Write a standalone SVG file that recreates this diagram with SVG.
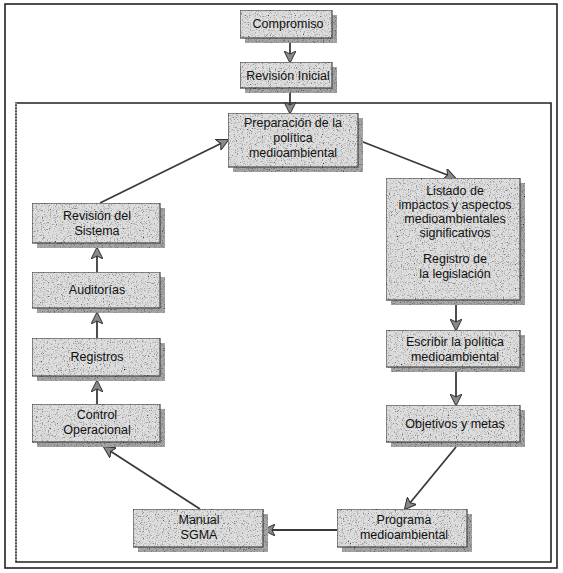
<svg xmlns="http://www.w3.org/2000/svg" width="563" height="573" viewBox="0 0 563 573">
  <defs>
    <style>
      .frame { fill: none; stroke: #222; stroke-width: 1.6; }
      .box { fill: #dedede; stroke: #4a4a4a; stroke-width: 1.2; }
      .shadow { fill: #a6a6a6; }
      .label { font-family: "Liberation Sans", Arial, sans-serif; font-size: 12.5px; fill: #111; text-anchor: middle; }
      .link { stroke: #3a3a3a; stroke-width: 1.8; fill: none; marker-end: url(#head); }
    </style>
    <!-- speckled grey finish for the boxes -->
    <filter id="grain" x="0" y="0" width="1" height="1">
      <feTurbulence type="fractalNoise" baseFrequency="0.85" numOctaves="2" seed="4" result="noise"/>
      <feColorMatrix in="noise" type="matrix" values="0 0 0 0 0  0 0 0 0 0  0 0 0 0 0  -2.6 0 0 0 1.25" result="dots"/>
      <feComposite in="dots" in2="SourceGraphic" operator="in" result="speck"/>
      <feMerge><feMergeNode in="SourceGraphic"/><feMergeNode in="speck"/></feMerge>
    </filter>
    <marker id="head" viewBox="0 0 12 12" refX="11" refY="6" markerWidth="12" markerHeight="12" markerUnits="userSpaceOnUse" orient="auto">
      <path d="M0,0 L12,6 L0,12 L3,6 Z" fill="#8a8a8a" stroke="#333" stroke-width="1"/>
    </marker>
  </defs>

  <!-- outer frame and inner management-cycle frame -->
  <rect class="frame" x="5" y="4" width="552" height="564"/>
  <path d="M16,562 V103 H551 V562 Z" fill="none" stroke="#222" stroke-width="1.6"/>
  <path d="M16,103 V562" stroke="#fff" stroke-width="1" stroke-dasharray="1.5 1.5"/>

  <g id="connectors">
    <line class="link" x1="290" y1="38" x2="290" y2="62"/>
    <line class="link" x1="290" y1="88" x2="290" y2="113"/>
    <line class="link" x1="358" y1="140" x2="455" y2="178"/>
    <line class="link" x1="456" y1="305" x2="456" y2="330"/>
    <line class="link" x1="456" y1="372" x2="456" y2="405"/>
    <line class="link" x1="456" y1="447" x2="405" y2="509"/>
    <line class="link" x1="337" y1="530" x2="264" y2="530"/>
    <line class="link" x1="200" y1="509" x2="104" y2="447"/>
    <line class="link" x1="97" y1="404" x2="97" y2="381"/>
    <line class="link" x1="97" y1="338" x2="97" y2="313"/>
    <line class="link" x1="97" y1="272" x2="97" y2="248"/>
    <line class="link" x1="100" y1="203" x2="228" y2="140"/>
  </g>

  <g id="compromiso">
    <g filter="url(#grain)"><rect class="shadow" x="245" y="15" width="92" height="28"/><rect class="box" x="240" y="10" width="92" height="28"/></g>
    <text class="label" x="288" y="28">Compromiso</text>
  </g>

  <g id="revision-inicial">
    <g filter="url(#grain)"><rect class="shadow" x="245" y="67" width="92" height="26"/><rect class="box" x="240" y="62" width="92" height="26"/></g>
    <text class="label" x="288" y="80">Revisión Inicial</text>
  </g>

  <g id="preparacion">
    <g filter="url(#grain)"><rect class="shadow" x="233" y="118" width="130" height="54"/><rect class="box" x="228" y="113" width="130" height="54"/></g>
    <text class="label" x="293" y="127">Preparación de la</text>
    <text class="label" x="293" y="142">política</text>
    <text class="label" x="293" y="157">medioambiental</text>
  </g>

  <g id="listado">
    <g filter="url(#grain)"><rect class="shadow" x="391" y="183" width="134" height="122"/><rect class="box" x="386" y="178" width="134" height="122"/></g>
    <text class="label" x="455" y="195">Listado de</text>
    <text class="label" x="455" y="209">impactos y aspectos</text>
    <text class="label" x="455" y="223">medioambientales</text>
    <text class="label" x="455" y="237">significativos</text>
    <text class="label" x="455" y="263">Registro de</text>
    <text class="label" x="455" y="278">la legislación</text>
  </g>

  <g id="escribir">
    <g filter="url(#grain)"><rect class="shadow" x="391" y="335" width="134" height="37"/><rect class="box" x="386" y="330" width="134" height="37"/></g>
    <text class="label" x="455" y="346">Escribir la política</text>
    <text class="label" x="455" y="361">medioambiental</text>
  </g>

  <g id="objetivos">
    <g filter="url(#grain)"><rect class="shadow" x="391" y="410" width="134" height="37"/><rect class="box" x="386" y="405" width="134" height="37"/></g>
    <text class="label" x="455" y="428">Objetivos y metas</text>
  </g>

  <g id="programa">
    <g filter="url(#grain)"><rect class="shadow" x="342" y="514" width="130" height="38"/><rect class="box" x="337" y="509" width="130" height="38"/></g>
    <text class="label" x="404" y="524">Programa</text>
    <text class="label" x="404" y="539">medioambiental</text>
  </g>

  <g id="manual-sgma">
    <g filter="url(#grain)"><rect class="shadow" x="138" y="514" width="130" height="38"/><rect class="box" x="133" y="509" width="130" height="38"/></g>
    <text class="label" x="199" y="524">Manual</text>
    <text class="label" x="199" y="539">SGMA</text>
  </g>

  <g id="control-operacional">
    <g filter="url(#grain)"><rect class="shadow" x="37" y="409" width="128" height="38"/><rect class="box" x="32" y="404" width="128" height="38"/></g>
    <text class="label" x="97" y="419">Control</text>
    <text class="label" x="97" y="434">Operacional</text>
  </g>

  <g id="registros">
    <g filter="url(#grain)"><rect class="shadow" x="37" y="343" width="128" height="38"/><rect class="box" x="32" y="338" width="128" height="38"/></g>
    <text class="label" x="97" y="361">Registros</text>
  </g>

  <g id="auditorias">
    <g filter="url(#grain)"><rect class="shadow" x="37" y="277" width="128" height="36"/><rect class="box" x="32" y="272" width="128" height="36"/></g>
    <text class="label" x="97" y="294">Auditorías</text>
  </g>

  <g id="revision-sistema">
    <g filter="url(#grain)"><rect class="shadow" x="37" y="208" width="128" height="40"/><rect class="box" x="32" y="203" width="128" height="40"/></g>
    <text class="label" x="97" y="220">Revisión del</text>
    <text class="label" x="97" y="235">Sistema</text>
  </g>
</svg>
